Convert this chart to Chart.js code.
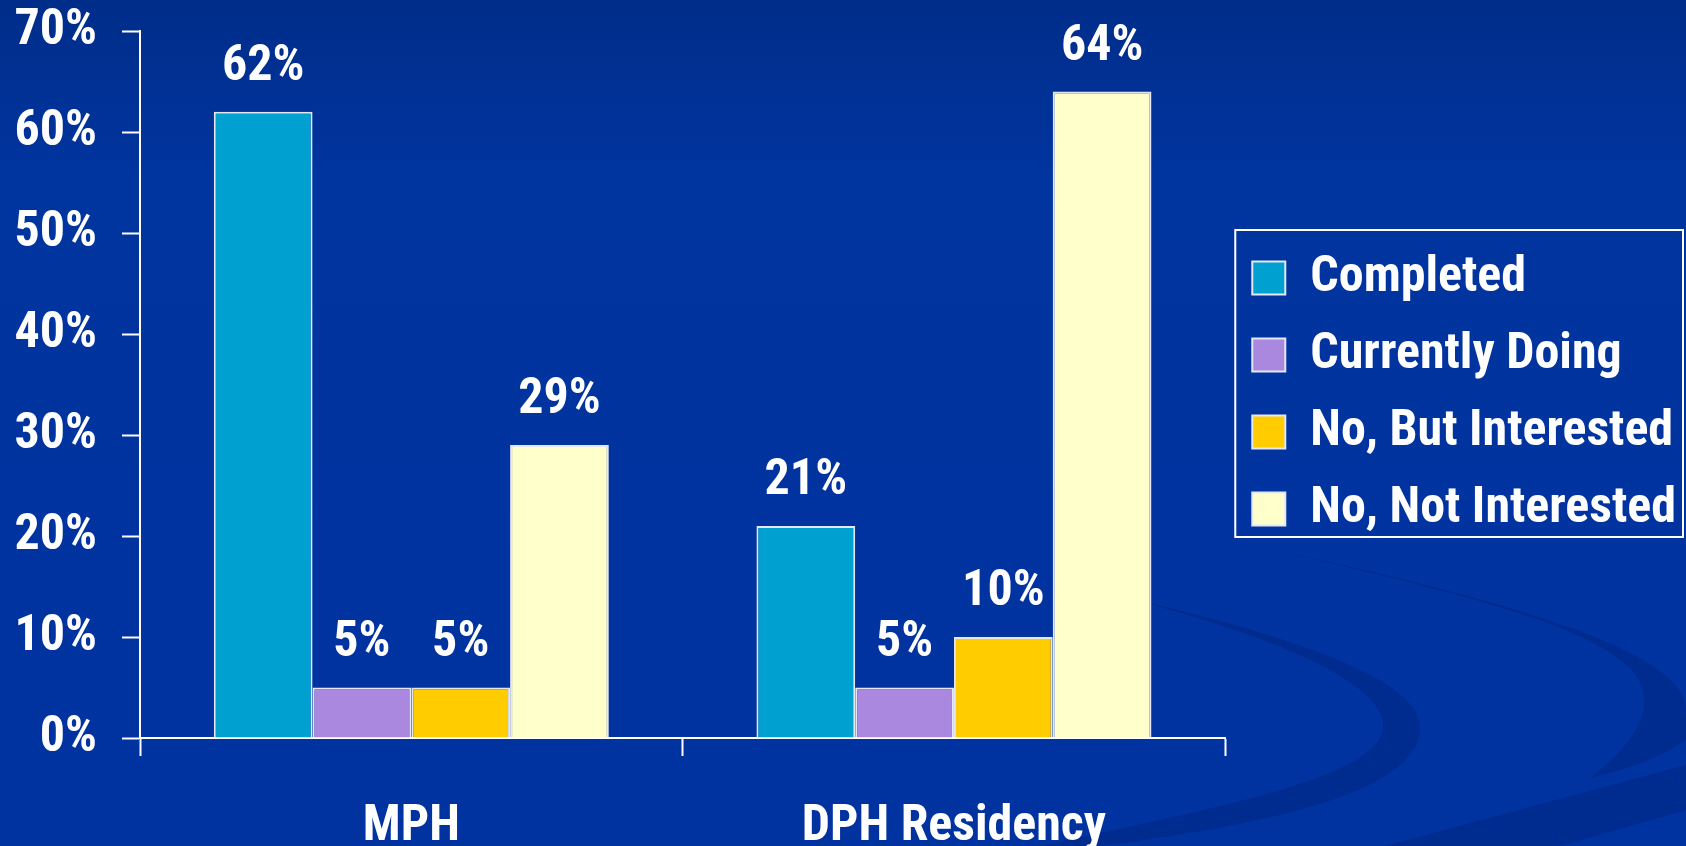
<!DOCTYPE html>
<html>
<head>
<meta charset="utf-8">
<title>MPH / DPH Residency</title>
<script src="https://cdn.jsdelivr.net/npm/chart.js@4.4.1/dist/chart.umd.min.js"></script>
<style>
    html, body { margin: 0; padding: 0; background: #0033A0; }
    #wrap { position: relative; width: 1686px; height: 846px; }
</style>
</head>
<body>
<div id="wrap"><canvas id="barChart"></canvas></div>
<script>
var categories = ["MPH", "DPH Residency"];
var seriesNames = ["Completed", "Currently Doing", "No, But Interested", "No, Not Interested"];
var completed = [62, 21];
var currentlyDoing = [5, 5];
var butInterested = [5, 10];
var notInterested = [29, 64];
var yTicks = [0, 10, 20, 30, 40, 50, 60, 70];

var fillColors = ["#00A0D0", "#AA88E0", "#FFCC00", "#FFFFCC"];
var fontFamily = "'Roboto Condensed', 'Liberation Sans Narrow', sans-serif";

(function () {

    var seriesValues = [completed, currentlyDoing, butInterested, notInterested];

    // slide background: blue gradient with faint dark swooshes bottom right
    var backgroundPlugin = {
        id: "slideBackground",
        beforeDraw: function (chart) {
            var ctx = chart.ctx;
            var w = chart.width, h = chart.height;
            ctx.save();
            var grad = ctx.createLinearGradient(0, 0, 0, h);
            grad.addColorStop(0, "#002D8A");
            grad.addColorStop(0.2, "#00349E");
            grad.addColorStop(1, "#0033A0");
            ctx.fillStyle = grad;
            ctx.fillRect(0, 0, w, h);

            ctx.fillStyle = "rgba(0, 28, 110, 0.32)";

            ctx.beginPath();
            ctx.moveTo(1120, 596);
            ctx.bezierCurveTo(1290, 635, 1425, 680, 1420, 730);
            ctx.bezierCurveTo(1415, 795, 1260, 825, 1100, 846);
            ctx.lineTo(1040, 846);
            ctx.bezierCurveTo(1230, 805, 1390, 775, 1383, 722);
            ctx.bezierCurveTo(1378, 685, 1290, 640, 1120, 596);
            ctx.closePath();
            ctx.fill();

            ctx.beginPath();
            ctx.moveTo(1290, 553);
            ctx.bezierCurveTo(1500, 600, 1690, 650, 1686, 712);
            ctx.lineTo(1686, 740);
            ctx.bezierCurveTo(1660, 758, 1625, 770, 1590, 778);
            ctx.bezierCurveTo(1640, 740, 1660, 700, 1630, 668);
            ctx.bezierCurveTo(1580, 620, 1440, 590, 1290, 553);
            ctx.closePath();
            ctx.fill();

            ctx.beginPath();
            ctx.moveTo(1385, 846);
            ctx.lineTo(1686, 765);
            ctx.lineTo(1686, 810);
            ctx.lineTo(1560, 846);
            ctx.closePath();
            ctx.fill();
            ctx.restore();
        }
    };

    // value labels above each bar
    var valueLabelPlugin = {
        id: "valueLabels",
        afterDatasetsDraw: function (chart) {
            var ctx = chart.ctx;
            ctx.save();
            ctx.fillStyle = "#FFFFFF";
            ctx.font = "bold 50px " + fontFamily;
            ctx.textAlign = "center";
            ctx.textBaseline = "alphabetic";
            chart.data.datasets.forEach(function (ds, i) {
                var meta = chart.getDatasetMeta(i);
                meta.data.forEach(function (bar, j) {
                    ctx.fillText(ds.data[j] + "%", bar.x, bar.y - 32);
                });
            });
            ctx.restore();
        }
    };

    // white frame around the legend
    var legendFramePlugin = {
        id: "legendFrame",
        afterDraw: function (chart) {
            var legend = chart.legend;
            if (!legend || !legend.legendHitBoxes.length) return;
            var boxes = legend.legendHitBoxes;
            var first = boxes[0], last = boxes[boxes.length - 1];
            var left = first.left - 17;
            var top = first.top - 23;
            var right = chart.width - 3;
            var bottom = last.top + last.height + 3;
            var ctx = chart.ctx;
            ctx.save();
            ctx.strokeStyle = "#FFFFFF";
            ctx.lineWidth = 2;
            ctx.strokeRect(left, top, right - left, bottom - top);
            ctx.restore();
        }
    };

    var datasets = [];
    for (var i = 0; i < seriesNames.length; i++) {
        datasets.push({
            label: seriesNames[i],
            data: seriesValues[i],
            backgroundColor: fillColors[i],
            borderColor: "#E4E8F4",
            borderWidth: 2,
            barPercentage: 1,
            categoryPercentage: 0.728
        });
    }

    var tickStep = yTicks[1] - yTicks[0];
    var tickFont = { family: fontFamily, size: 50, weight: "bold", lineHeight: 1 };

    var chartOptions = {
        responsive: true,
        maintainAspectRatio: false,
        animation: false,
        layout: { padding: 0 },
        plugins: {
            tooltip: { enabled: false },
            legend: {
                position: "right",
                fullSize: false,
                maxWidth: 470,
                // empty title, only used to push the items down a little
                title: {
                    display: true,
                    text: "",
                    padding: 0,
                    font: { size: 18, lineHeight: 1 }
                },
                labels: {
                    color: "#FFFFFF",
                    boxWidth: 33,
                    boxHeight: 33,
                    padding: 27,
                    font: tickFont
                }
            }
        },
        scales: {
            x: {
                grid: {
                    display: true,
                    drawOnChartArea: false,
                    drawTicks: true,
                    tickLength: 18,
                    tickWidth: 2,
                    color: "#FFFFFF"
                },
                border: { display: true, color: "#FFFFFF", width: 2 },
                ticks: {
                    color: "#FFFFFF",
                    padding: 46,
                    maxRotation: 0,
                    font: tickFont
                },
                afterFit: function (scale) {
                    scale.height = 108;
                }
            },
            y: {
                min: yTicks[0],
                max: yTicks[yTicks.length - 1],
                grid: {
                    display: true,
                    drawOnChartArea: false,
                    drawTicks: true,
                    tickLength: 18,
                    tickWidth: 2,
                    color: "#FFFFFF"
                },
                border: { display: true, color: "#FFFFFF", width: 2 },
                ticks: {
                    stepSize: tickStep,
                    color: "#FFFFFF",
                    padding: 25,
                    font: tickFont,
                    callback: function (value) { return value + "%"; }
                },
                afterFit: function (scale) {
                    scale.width = 140;
                    scale.paddingTop = 31;
                    scale.paddingBottom = 0;
                }
            }
        }
    };

    var ctx = document.getElementById("barChart").getContext("2d");
    new Chart(ctx, {
        type: "bar",
        data: { labels: categories, datasets: datasets },
        options: chartOptions,
        plugins: [backgroundPlugin, valueLabelPlugin, legendFramePlugin]
    });

})();
</script>
</body>
</html>
